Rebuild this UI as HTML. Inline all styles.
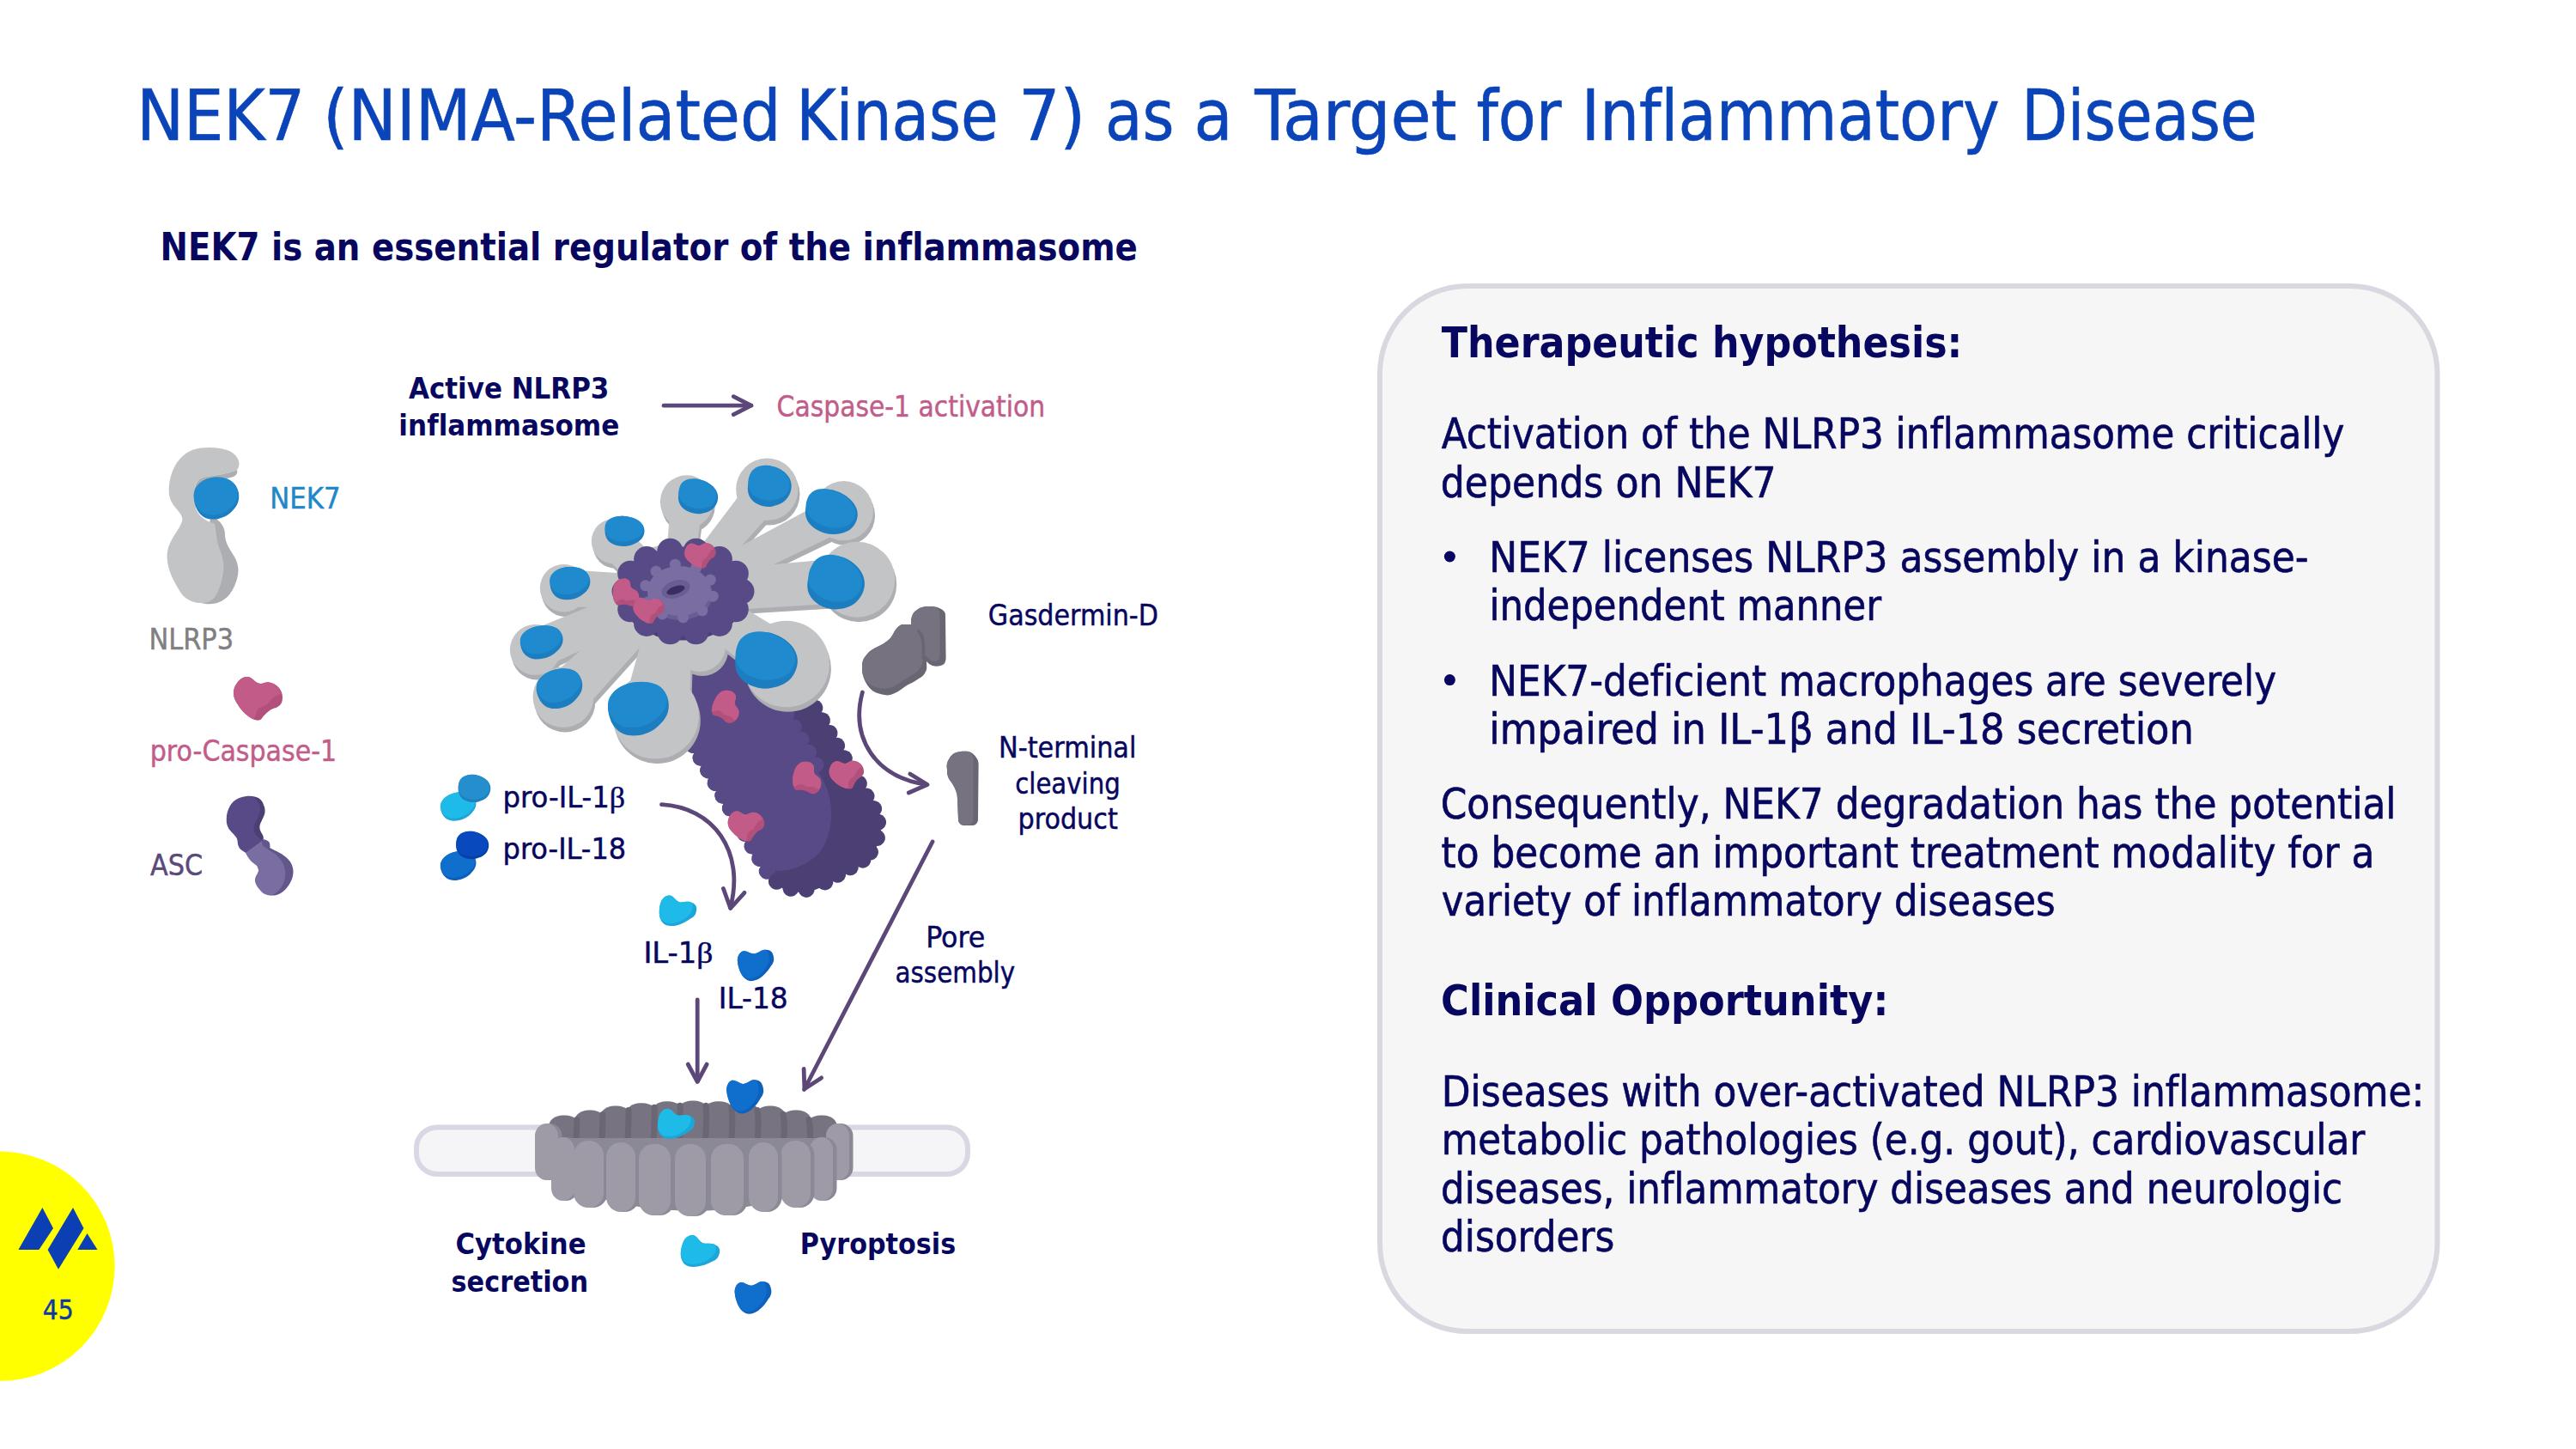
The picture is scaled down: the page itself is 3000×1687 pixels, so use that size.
<!DOCTYPE html>
<html lang="en"><head><meta charset="utf-8"><title>NEK7 (NIMA-Related Kinase 7) as a Target for Inflammatory Disease</title>
<style>
html,body{margin:0;padding:0;background:#fff;}
body{width:3000px;height:1687px;overflow:hidden;}
svg{display:block;}
text{font-family:"DejaVu Sans Condensed","DejaVu Sans","Liberation Sans",sans-serif;font-variant-ligatures:none;font-kerning:normal;white-space:pre;}
text.b{font-family:"DejaVu Sans Condensed","DejaVu Sans","Liberation Sans",sans-serif;}
</style></head><body>
<svg width="3000" height="1687" viewBox="0 0 3000 1687">
<rect width="3000" height="1687" fill="#ffffff"/>
<rect x="1607" y="333" width="1231.5" height="1217" rx="102" ry="102" fill="#F6F6F7" stroke="#DAD7E1" stroke-width="6"/><circle cx="1688.4" cy="648" r="6.5" fill="#07075F"/><circle cx="1688.4" cy="791.6" r="6.5" fill="#07075F"/><circle cx="0" cy="1474.2" r="133.6" fill="#FFFF00"/><polygon points="49.4,1406 62,1430 45.4,1455 21.4,1455" fill="#0C3FB4"/><polygon points="85,1406 97.5,1430 68,1477.7 55.6,1455" fill="#0C3FB4"/><polygon points="101.5,1436 113.5,1455 90.3,1455" fill="#0C3FB4"/><path d="M246,600 C256,606 262,613 262,622 C262,634 270,642 274,650 C278,658 278.5,666 276,674 C272,688 265,699 251,702.5 C245,703.8 240,703.5 234,702 L234,650 Z" fill="#ADAEB1"/><path d="M234,521.6 C250,520 268,522 275,531 C279.5,537 279.5,543 276,547 C268,551 252,553.5 240,555 C232,556.5 227,561 227,568 L228,592 C232,602 240,607 250,609.6 C252,620 252,630 256,640 C260,650 262,660 259,672 C255,690 250,700 238,702 C226,703 214,698 208,686 C198,670 193,655 195,642 C197,628 210,616 212.2,606 C214,596 197,590 196.8,573 C196,555 205,525 234,521.6 Z" fill="#C3C4C6"/><path d="M227,570 C227,561 232,556.5 240,555 C252,553.5 268,551 276,547 C277,550 276,553 272,555 C262,558 250,560 242,561.5 C234,563 230,566 228.5,574 Z" fill="#ADAEB1"/><g transform="translate(252.3,580.4) rotate(-8) scale(26.25,24.75)"><path d="M-1,-0.1 C-1,-0.65 -0.55,-1 -0.05,-1 C0.5,-1 0.98,-0.7 1,-0.15 C1.02,0.35 0.75,0.6 0.45,0.8 C0.15,1.0 -0.35,1.02 -0.65,0.8 C-0.9,0.6 -1,0.3 -1,-0.1 Z" fill="#1C7EC0"/></g><g transform="translate(251.5,577.9) rotate(-8) scale(25.46,22.28)"><path d="M-1,-0.1 C-1,-0.65 -0.55,-1 -0.05,-1 C0.5,-1 0.98,-0.7 1,-0.15 C1.02,0.35 0.75,0.6 0.45,0.8 C0.15,1.0 -0.35,1.02 -0.65,0.8 C-0.9,0.6 -1,0.3 -1,-0.1 Z" fill="#1F8ACE"/></g><g transform="translate(300.5,813.2) rotate(0) scale(0.570) translate(-50,-44)"><path d="M28,0 C38,0 44,12 52,13.5 C60,15 64,10 73,11 C88,13 100,26 100,41 C100,48 99,53 95.5,57 C90,64 80,64 74.5,68 C68,72 65,76 61,80 C58,84 56,88 52,88.5 C48,89 44,88 41,86.5 C35,84 29,80 24.5,75.5 C18,70 13,64 9,57 C4,50 0,42 0,33.5 C0,26 2,19 6.5,13.5 C11,6 19,0 28,0 Z" fill="#B2507B"/><path d="M28,0 C38,0 44,12 52,13.5 C60,15 64,10 73,11 C85,12.5 95,22 97,35.5 C92,37 87,38 82.7,41 C77,45 74,50 70,54.5 C64,60 57,60 52,63.6 C47,68 47,73 45.5,77 C44,81 43,84 41,86.5 C35,84 29,80 24.5,75.5 C18,70 13,64 9,57 C4,50 0,42 0,33.5 C0,26 2,19 6.5,13.5 C11,6 19,0 28,0 Z" fill="#C35B88"/></g><path d="M287,927 C298,926 305,930 306.8,936.4 C309,941 309,945 307.9,948.6 C306,954 303,958 302.4,961.8 C302,966 304,969 305.7,971.8 C306.5,973 307,975 306.8,977 L300,985 L286,992.7 L280,960 Z" fill="#4B3F74"/><path d="M304,979 C305,977.5 306,977 306.8,977.3 C309,977.5 312,978.5 313.5,980.6 C315,983 314,985.5 314.6,987.2 C320,990 327,993 332.2,997.2 C337,1001 340,1005 341,1010.4 C342,1015 341.5,1019 340,1023.6 C338,1028 336,1032 332.2,1035.8 C329,1039 325,1041.5 320,1042.4 L314.6,1042.4 L300,1010 Z" fill="#62568A"/><path d="M285.9,992.7 L304.6,978.9 L305.7,983.9 C308,986 311,988.5 314.6,990.5 C319,993 323,996 325.6,999.4 C330,1004 332,1010 332.2,1015.9 C332.5,1022 331,1028 327.8,1032.5 C324.5,1037.5 320,1041.5 314.6,1042.4 C309.5,1042.5 305,1039.5 302.4,1035.8 C299.5,1032.5 297,1029 296.9,1024.8 C296.8,1020 301,1017 301.3,1012.6 C301.5,1008.5 296,1006 292.5,1002.7 C289.5,999.5 287.5,996 285.9,992.7 Z" fill="#7A6DA2"/><path d="M287,927 C293,926.5 298,929 300.2,933.1 C303,937 303.5,942 302.4,946.4 C301,952 297,957 295.8,961.8 C295,966 296,969 298,971.8 C300,974 303,976.5 304.6,978.9 L285.9,992.7 C282,990.5 279.5,989 278.1,986.1 C276.5,983 277,979 275.9,976.2 C273,971 268,968 266,964 C264,960 263.5,957 263.8,953 C264,945 267,938 272,933 C276,929.5 281,927.5 287,927 Z" fill="#574A86"/><rect x="485" y="1312.4" width="642" height="54.6" rx="24" ry="24" fill="#F5F4F7" stroke="#DAD6E3" stroke-width="6"/><path d="M631.0,1322 C639.0,1302 707.0,1296 807.0,1296 C907.0,1296 975.0,1302 983.0,1322 L977.0,1350 L637.0,1350 Z" fill="#777380"/><rect x="639.5" y="1298.5" width="35" height="70" rx="16" ry="12" fill="#777380"/><rect x="669.5" y="1292.4" width="35" height="70" rx="16" ry="12" fill="#777380"/><rect x="699.5" y="1287.6" width="35" height="70" rx="16" ry="12" fill="#777380"/><rect x="729.5" y="1284.2" width="35" height="70" rx="16" ry="12" fill="#777380"/><rect x="759.5" y="1282.2" width="35" height="70" rx="16" ry="12" fill="#777380"/><rect x="789.5" y="1281.5" width="35" height="70" rx="16" ry="12" fill="#777380"/><rect x="819.5" y="1282.2" width="35" height="70" rx="16" ry="12" fill="#777380"/><rect x="849.5" y="1284.2" width="35" height="70" rx="16" ry="12" fill="#777380"/><rect x="879.5" y="1287.6" width="35" height="70" rx="16" ry="12" fill="#777380"/><rect x="909.5" y="1292.4" width="35" height="70" rx="16" ry="12" fill="#777380"/><rect x="939.5" y="1298.5" width="35" height="70" rx="16" ry="12" fill="#777380"/><path d="M672.0,1303.5 C671.3,1323.5 670.0,1338.5 670.2,1363.5" stroke="#6A6673" stroke-width="7" fill="none" stroke-linecap="round"/><path d="M702.0,1297.4 C701.9,1317.4 700.0,1332.4 700.6,1357.4" stroke="#6A6673" stroke-width="7" fill="none" stroke-linecap="round"/><path d="M732.0,1292.6 C732.5,1312.6 730.0,1327.6 731.0,1352.6" stroke="#6A6673" stroke-width="7" fill="none" stroke-linecap="round"/><path d="M762.0,1289.2 C763.1,1309.2 760.0,1324.2 761.4,1349.2" stroke="#6A6673" stroke-width="7" fill="none" stroke-linecap="round"/><path d="M792.0,1287.2 C793.7,1307.2 790.0,1322.2 791.8,1347.2" stroke="#6A6673" stroke-width="7" fill="none" stroke-linecap="round"/><path d="M822.0,1287.2 C824.3,1307.2 820.0,1322.2 822.2,1347.2" stroke="#6A6673" stroke-width="7" fill="none" stroke-linecap="round"/><path d="M852.0,1289.2 C854.9,1309.2 850.0,1324.2 852.6,1349.2" stroke="#6A6673" stroke-width="7" fill="none" stroke-linecap="round"/><path d="M882.0,1292.6 C885.5,1312.6 880.0,1327.6 883.0,1352.6" stroke="#6A6673" stroke-width="7" fill="none" stroke-linecap="round"/><path d="M912.0,1297.4 C916.1,1317.4 910.0,1332.4 913.4,1357.4" stroke="#6A6673" stroke-width="7" fill="none" stroke-linecap="round"/><path d="M942.0,1303.5 C946.7,1323.5 940.0,1338.5 943.8,1363.5" stroke="#6A6673" stroke-width="7" fill="none" stroke-linecap="round"/><path d="M627.0,1325 L987.0,1325 C985.0,1370 927.0,1408 807.0,1410 C687.0,1408 629.0,1370 627.0,1325 Z" fill="#8C8996"/><g transform="translate(787.5,1308.5) rotate(0) scale(0.430,0.430) translate(-50,-41)"><path d="M27,0 C38,0 44,15 54,17.5 C64,20 72,15 83,17.5 C93,20 100,26 100,34 C100,40 99,46 96.5,51 C93,56 89,60 83,62.5 C75,68 67,73 58,76 C50,79 41,82 31,81.7 C23,81.5 15,79 10,74 C3,67 0,57 0,47 C0,37 1,27 4.2,18.3 C8,8 17,0 27,0 Z" fill="#1EA6D8"/><path d="M27,0 C38,0 44,15 54,17.5 C64,20 72,15 83,17.5 C86,18.5 88,20 89,23 C91,32 88,42 82,50 C75,58 66,65 56,69 C48,72 40,75 31,75 C23,75 15,73 10,69 C3,62 0,55 0,47 C0,37 1,27 4.2,18.3 C8,8 17,0 27,0 Z" fill="#1EBAE8"/></g><rect x="625.5" y="1308.0" width="29" height="66" rx="14.5" ry="14.5" fill="#8C8996"/><rect x="623.0" y="1308.0" width="27" height="66" rx="14.5" ry="14.5" fill="#9E9BA7"/><rect x="644.5" y="1324.0" width="29" height="74" rx="14.5" ry="14.5" fill="#8C8996"/><rect x="642.0" y="1324.0" width="27" height="74" rx="14.5" ry="14.5" fill="#9E9BA7"/><rect x="964.5" y="1308.0" width="29" height="66" rx="14.5" ry="14.5" fill="#8C8996"/><rect x="962.0" y="1308.0" width="27" height="66" rx="14.5" ry="14.5" fill="#9E9BA7"/><rect x="945.5" y="1324.0" width="29" height="74" rx="14.5" ry="14.5" fill="#8C8996"/><rect x="943.0" y="1324.0" width="27" height="74" rx="14.5" ry="14.5" fill="#9E9BA7"/><rect x="670.5" y="1328.0" width="37" height="78" rx="17" ry="17" fill="#8C8996"/><rect x="668.0" y="1328.0" width="35" height="78" rx="17" ry="17" fill="#9E9BA7"/><rect x="911.5" y="1328.0" width="37" height="78" rx="17" ry="17" fill="#8C8996"/><rect x="909.0" y="1328.0" width="35" height="78" rx="17" ry="17" fill="#9E9BA7"/><rect x="708.5" y="1330.0" width="36" height="81" rx="17" ry="17" fill="#8C8996"/><rect x="706.0" y="1330.0" width="34" height="81" rx="17" ry="17" fill="#9E9BA7"/><rect x="874.5" y="1330.0" width="36" height="81" rx="17" ry="17" fill="#8C8996"/><rect x="872.0" y="1330.0" width="34" height="81" rx="17" ry="17" fill="#9E9BA7"/><rect x="746.5" y="1332.0" width="39" height="83" rx="17" ry="17" fill="#8C8996"/><rect x="744.0" y="1332.0" width="37" height="83" rx="17" ry="17" fill="#9E9BA7"/><rect x="830.5" y="1332.0" width="40" height="83" rx="17" ry="17" fill="#8C8996"/><rect x="828.0" y="1332.0" width="38" height="83" rx="17" ry="17" fill="#9E9BA7"/><rect x="788.5" y="1332.0" width="38" height="84" rx="17" ry="17" fill="#8C8996"/><rect x="786.0" y="1332.0" width="36" height="84" rx="17" ry="17" fill="#9E9BA7"/><g transform="translate(868.8,1273.5) rotate(-22) scale(0.430,0.503) translate(-50,-41)"><path d="M27,0 C38,0 44,15 54,17.5 C64,20 72,15 83,17.5 C93,20 100,26 100,34 C100,40 99,46 96.5,51 C93,56 89,60 83,62.5 C75,68 67,73 58,76 C50,79 41,82 31,81.7 C23,81.5 15,79 10,74 C3,67 0,57 0,47 C0,37 1,27 4.2,18.3 C8,8 17,0 27,0 Z" fill="#0D60BB"/><path d="M27,0 C38,0 44,15 54,17.5 C64,20 72,15 83,17.5 C86,18.5 88,20 89,23 C91,32 88,42 82,50 C75,58 66,65 56,69 C48,72 40,75 31,75 C23,75 15,73 10,69 C3,62 0,55 0,47 C0,37 1,27 4.2,18.3 C8,8 17,0 27,0 Z" fill="#106ECD"/></g><g transform="translate(800,712) rotate(59.7)"><rect x="30" y="-75.0" width="326" height="150" rx="50" ry="50" fill="#4B3F74"/><circle cx="70" cy="-72.0" r="9.5" fill="#4B3F74"/><circle cx="70" cy="72.0" r="9.5" fill="#574A86"/><circle cx="87" cy="-72.0" r="9.5" fill="#4B3F74"/><circle cx="87" cy="72.0" r="9.5" fill="#574A86"/><circle cx="104" cy="-72.0" r="9.5" fill="#4B3F74"/><circle cx="104" cy="72.0" r="9.5" fill="#574A86"/><circle cx="121" cy="-72.0" r="9.5" fill="#4B3F74"/><circle cx="121" cy="72.0" r="9.5" fill="#574A86"/><circle cx="138" cy="-72.0" r="9.5" fill="#4B3F74"/><circle cx="138" cy="72.0" r="9.5" fill="#574A86"/><circle cx="155" cy="-72.0" r="9.5" fill="#4B3F74"/><circle cx="155" cy="72.0" r="9.5" fill="#574A86"/><circle cx="172" cy="-72.0" r="9.5" fill="#4B3F74"/><circle cx="172" cy="72.0" r="9.5" fill="#574A86"/><circle cx="189" cy="-72.0" r="9.5" fill="#4B3F74"/><circle cx="189" cy="72.0" r="9.5" fill="#574A86"/><circle cx="206" cy="-72.0" r="9.5" fill="#4B3F74"/><circle cx="206" cy="72.0" r="9.5" fill="#574A86"/><circle cx="223" cy="-72.0" r="9.5" fill="#4B3F74"/><circle cx="223" cy="72.0" r="9.5" fill="#574A86"/><circle cx="240" cy="-72.0" r="9.5" fill="#4B3F74"/><circle cx="240" cy="72.0" r="9.5" fill="#574A86"/><circle cx="257" cy="-72.0" r="9.5" fill="#4B3F74"/><circle cx="257" cy="72.0" r="9.5" fill="#574A86"/><circle cx="274" cy="-72.0" r="9.5" fill="#4B3F74"/><circle cx="274" cy="72.0" r="9.5" fill="#574A86"/><circle cx="291" cy="-72.0" r="9.5" fill="#4B3F74"/><circle cx="291" cy="72.0" r="9.5" fill="#574A86"/><circle cx="308" cy="-72.0" r="9.5" fill="#4B3F74"/><circle cx="308" cy="72.0" r="9.5" fill="#574A86"/><circle cx="353" cy="-31.0" r="9.5" fill="#4B3F74"/><circle cx="353" cy="-14.0" r="9.5" fill="#4B3F74"/><circle cx="353" cy="3.0" r="9.5" fill="#4B3F74"/><circle cx="353" cy="20.0" r="9.5" fill="#4B3F74"/><circle cx="349.4" cy="-43.0" r="9.5" fill="#4B3F74"/><circle cx="349.4" cy="43.0" r="9.5" fill="#4B3F74"/><circle cx="339.2" cy="-58.2" r="9.5" fill="#4B3F74"/><circle cx="339.2" cy="58.2" r="9.5" fill="#4B3F74"/><circle cx="324.0" cy="-68.4" r="9.5" fill="#4B3F74"/><circle cx="324.0" cy="68.4" r="9.5" fill="#4B3F74"/><path d="M30,75.0 L286,75.0 C316,75.0 326,45.0 322,15.0 C318,-8 286,-38 246,-38 L30,-38 Z" fill="#574A86"/><circle cx="60" cy="-40" r="9" fill="#574A86"/><circle cx="77" cy="-40" r="9" fill="#574A86"/><circle cx="94" cy="-40" r="9" fill="#574A86"/><circle cx="111" cy="-40" r="9" fill="#574A86"/><circle cx="128" cy="-40" r="9" fill="#574A86"/><circle cx="145" cy="-40" r="9" fill="#574A86"/><circle cx="162" cy="-40" r="9" fill="#574A86"/><circle cx="179" cy="-40" r="9" fill="#574A86"/><circle cx="196" cy="-40" r="9" fill="#574A86"/><circle cx="213" cy="-40" r="9" fill="#574A86"/><circle cx="230" cy="-40" r="9" fill="#574A86"/><circle cx="70" cy="72.0" r="9.5" fill="#574A86"/><circle cx="87" cy="72.0" r="9.5" fill="#574A86"/><circle cx="104" cy="72.0" r="9.5" fill="#574A86"/><circle cx="121" cy="72.0" r="9.5" fill="#574A86"/><circle cx="138" cy="72.0" r="9.5" fill="#574A86"/><circle cx="155" cy="72.0" r="9.5" fill="#574A86"/><circle cx="172" cy="72.0" r="9.5" fill="#574A86"/><circle cx="189" cy="72.0" r="9.5" fill="#574A86"/><circle cx="206" cy="72.0" r="9.5" fill="#574A86"/><circle cx="223" cy="72.0" r="9.5" fill="#574A86"/><circle cx="240" cy="72.0" r="9.5" fill="#574A86"/><circle cx="257" cy="72.0" r="9.5" fill="#574A86"/><circle cx="274" cy="72.0" r="9.5" fill="#574A86"/></g><g transform="translate(845.0,824.0) rotate(65) scale(0.380) translate(-50,-44)"><path d="M28,0 C38,0 44,12 52,13.5 C60,15 64,10 73,11 C88,13 100,26 100,41 C100,48 99,53 95.5,57 C90,64 80,64 74.5,68 C68,72 65,76 61,80 C58,84 56,88 52,88.5 C48,89 44,88 41,86.5 C35,84 29,80 24.5,75.5 C18,70 13,64 9,57 C4,50 0,42 0,33.5 C0,26 2,19 6.5,13.5 C11,6 19,0 28,0 Z" fill="#B2507B"/><path d="M28,0 C38,0 44,12 52,13.5 C60,15 64,10 73,11 C85,12.5 95,22 97,35.5 C92,37 87,38 82.7,41 C77,45 74,50 70,54.5 C64,60 57,60 52,63.6 C47,68 47,73 45.5,77 C44,81 43,84 41,86.5 C35,84 29,80 24.5,75.5 C18,70 13,64 9,57 C4,50 0,42 0,33.5 C0,26 2,19 6.5,13.5 C11,6 19,0 28,0 Z" fill="#C35B88"/></g><g transform="translate(939.0,907.5) rotate(50) scale(0.390) translate(-50,-44)"><path d="M28,0 C38,0 44,12 52,13.5 C60,15 64,10 73,11 C88,13 100,26 100,41 C100,48 99,53 95.5,57 C90,64 80,64 74.5,68 C68,72 65,76 61,80 C58,84 56,88 52,88.5 C48,89 44,88 41,86.5 C35,84 29,80 24.5,75.5 C18,70 13,64 9,57 C4,50 0,42 0,33.5 C0,26 2,19 6.5,13.5 C11,6 19,0 28,0 Z" fill="#B2507B"/><path d="M28,0 C38,0 44,12 52,13.5 C60,15 64,10 73,11 C85,12.5 95,22 97,35.5 C92,37 87,38 82.7,41 C77,45 74,50 70,54.5 C64,60 57,60 52,63.6 C47,68 47,73 45.5,77 C44,81 43,84 41,86.5 C35,84 29,80 24.5,75.5 C18,70 13,64 9,57 C4,50 0,42 0,33.5 C0,26 2,19 6.5,13.5 C11,6 19,0 28,0 Z" fill="#C35B88"/></g><g transform="translate(986.5,901.0) rotate(-15) scale(0.400) translate(-50,-44)"><path d="M28,0 C38,0 44,12 52,13.5 C60,15 64,10 73,11 C88,13 100,26 100,41 C100,48 99,53 95.5,57 C90,64 80,64 74.5,68 C68,72 65,76 61,80 C58,84 56,88 52,88.5 C48,89 44,88 41,86.5 C35,84 29,80 24.5,75.5 C18,70 13,64 9,57 C4,50 0,42 0,33.5 C0,26 2,19 6.5,13.5 C11,6 19,0 28,0 Z" fill="#B2507B"/><path d="M28,0 C38,0 44,12 52,13.5 C60,15 64,10 73,11 C85,12.5 95,22 97,35.5 C92,37 87,38 82.7,41 C77,45 74,50 70,54.5 C64,60 57,60 52,63.6 C47,68 47,73 45.5,77 C44,81 43,84 41,86.5 C35,84 29,80 24.5,75.5 C18,70 13,64 9,57 C4,50 0,42 0,33.5 C0,26 2,19 6.5,13.5 C11,6 19,0 28,0 Z" fill="#C35B88"/></g><g transform="translate(869.4,961.0) rotate(-10) scale(0.420) translate(-50,-44)"><path d="M28,0 C38,0 44,12 52,13.5 C60,15 64,10 73,11 C88,13 100,26 100,41 C100,48 99,53 95.5,57 C90,64 80,64 74.5,68 C68,72 65,76 61,80 C58,84 56,88 52,88.5 C48,89 44,88 41,86.5 C35,84 29,80 24.5,75.5 C18,70 13,64 9,57 C4,50 0,42 0,33.5 C0,26 2,19 6.5,13.5 C11,6 19,0 28,0 Z" fill="#B2507B"/><path d="M28,0 C38,0 44,12 52,13.5 C60,15 64,10 73,11 C85,12.5 95,22 97,35.5 C92,37 87,38 82.7,41 C77,45 74,50 70,54.5 C64,60 57,60 52,63.6 C47,68 47,73 45.5,77 C44,81 43,84 41,86.5 C35,84 29,80 24.5,75.5 C18,70 13,64 9,57 C4,50 0,42 0,33.5 C0,26 2,19 6.5,13.5 C11,6 19,0 28,0 Z" fill="#C35B88"/></g><polygon points="763.3,653.3 731.6,621.2 702.8,650.3 735.1,681.7" fill="#ADAEB1"/><circle cx="749.0" cy="667.4" r="20.0" fill="#ADAEB1"/><circle cx="717.0" cy="635.6" r="20.5" fill="#ADAEB1"/><circle cx="717.0" cy="635.6" r="26.2" fill="#ADAEB1"/><polygon points="812.1,654.0 820.1,592.1 783.2,588.3 778.3,650.5" fill="#ADAEB1"/><circle cx="795.2" cy="651.8" r="17.0" fill="#ADAEB1"/><circle cx="801.7" cy="589.7" r="18.6" fill="#ADAEB1"/><circle cx="801.7" cy="589.7" r="30.9" fill="#ADAEB1"/><polygon points="836.1,673.9 911.5,589.8 878.0,562.2 809.9,652.3" fill="#ADAEB1"/><circle cx="823.5" cy="662.5" r="17.0" fill="#ADAEB1"/><circle cx="895.3" cy="575.3" r="21.7" fill="#ADAEB1"/><circle cx="895.3" cy="575.3" r="36.2" fill="#ADAEB1"/><polygon points="843.1,691.5 993.5,618.9 974.6,582.0 827.7,661.3" fill="#ADAEB1"/><circle cx="835.7" cy="676.2" r="17.0" fill="#ADAEB1"/><circle cx="984.5" cy="600.2" r="20.8" fill="#ADAEB1"/><circle cx="984.5" cy="600.2" r="34.6" fill="#ADAEB1"/><polygon points="842.3,716.3 1001.8,706.6 997.8,653.9 838.7,668.4" fill="#ADAEB1"/><circle cx="840.9" cy="692.3" r="24.0" fill="#ADAEB1"/><circle cx="1000.2" cy="680.2" r="26.4" fill="#ADAEB1"/><circle cx="1000.2" cy="680.2" r="44.0" fill="#ADAEB1"/><polygon points="817.8,738.2 898.9,802.2 933.4,752.7 845.2,698.9" fill="#ADAEB1"/><circle cx="832.7" cy="719.4" r="24.0" fill="#ADAEB1"/><circle cx="917.6" cy="778.5" r="30.2" fill="#ADAEB1"/><circle cx="917.6" cy="778.5" r="50.3" fill="#ADAEB1"/><polygon points="754.6,731.7 727.7,828.3 804.8,839.9 807.6,739.7" fill="#ADAEB1"/><circle cx="780.6" cy="738.9" r="27.0" fill="#ADAEB1"/><circle cx="765.5" cy="838.8" r="39.3" fill="#ADAEB1"/><circle cx="765.5" cy="838.8" r="50.3" fill="#ADAEB1"/><polygon points="737.7,710.4 639.8,796.3 678.5,835.5 765.7,738.8" fill="#ADAEB1"/><circle cx="750.9" cy="725.4" r="20.0" fill="#ADAEB1"/><circle cx="658.0" cy="817.1" r="27.6" fill="#ADAEB1"/><circle cx="658.0" cy="817.1" r="35.4" fill="#ADAEB1"/><polygon points="733.3,693.5 616.7,740.8 634.8,782.8 749.2,730.2" fill="#ADAEB1"/><circle cx="740.8" cy="712.1" r="20.0" fill="#ADAEB1"/><circle cx="625.3" cy="762.0" r="22.9" fill="#ADAEB1"/><circle cx="625.3" cy="762.0" r="29.4" fill="#ADAEB1"/><polygon points="738.4,673.7 660.0,668.5 658.0,711.8 736.6,713.7" fill="#ADAEB1"/><circle cx="737.0" cy="693.7" r="20.0" fill="#ADAEB1"/><circle cx="658.6" cy="690.2" r="21.7" fill="#ADAEB1"/><circle cx="658.6" cy="690.2" r="27.8" fill="#ADAEB1"/><ellipse cx="791.0" cy="700.0" rx="80" ry="64" fill="#ADAEB1"/><circle cx="818" cy="757" r="30" fill="#ADAEB1"/><polygon points="761.3,647.8 729.6,615.7 700.8,644.8 733.1,676.2" fill="#C3C4C6"/><circle cx="747.0" cy="661.9" r="20.0" fill="#C3C4C6"/><circle cx="715.0" cy="630.1" r="20.5" fill="#C3C4C6"/><circle cx="715.0" cy="630.1" r="26.2" fill="#C3C4C6"/><polygon points="810.1,648.5 818.1,586.6 781.2,582.8 776.3,645.0" fill="#C3C4C6"/><circle cx="793.2" cy="646.3" r="17.0" fill="#C3C4C6"/><circle cx="799.7" cy="584.2" r="18.6" fill="#C3C4C6"/><circle cx="799.7" cy="584.2" r="30.9" fill="#C3C4C6"/><polygon points="834.1,668.4 909.5,584.3 876.0,556.7 807.9,646.8" fill="#C3C4C6"/><circle cx="821.5" cy="657.0" r="17.0" fill="#C3C4C6"/><circle cx="893.3" cy="569.8" r="21.7" fill="#C3C4C6"/><circle cx="893.3" cy="569.8" r="36.2" fill="#C3C4C6"/><polygon points="841.1,686.0 991.5,613.4 972.6,576.5 825.7,655.8" fill="#C3C4C6"/><circle cx="833.7" cy="670.7" r="17.0" fill="#C3C4C6"/><circle cx="982.5" cy="594.7" r="20.8" fill="#C3C4C6"/><circle cx="982.5" cy="594.7" r="34.6" fill="#C3C4C6"/><polygon points="840.3,710.8 999.8,701.1 995.8,648.4 836.7,662.9" fill="#C3C4C6"/><circle cx="838.9" cy="686.8" r="24.0" fill="#C3C4C6"/><circle cx="998.2" cy="674.7" r="26.4" fill="#C3C4C6"/><circle cx="998.2" cy="674.7" r="44.0" fill="#C3C4C6"/><polygon points="815.8,732.7 896.9,796.7 931.4,747.2 843.2,693.4" fill="#C3C4C6"/><circle cx="830.7" cy="713.9" r="24.0" fill="#C3C4C6"/><circle cx="915.6" cy="773.0" r="30.2" fill="#C3C4C6"/><circle cx="915.6" cy="773.0" r="50.3" fill="#C3C4C6"/><polygon points="752.6,726.2 725.7,822.8 802.8,834.4 805.6,734.2" fill="#C3C4C6"/><circle cx="778.6" cy="733.4" r="27.0" fill="#C3C4C6"/><circle cx="763.5" cy="833.3" r="39.3" fill="#C3C4C6"/><circle cx="763.5" cy="833.3" r="50.3" fill="#C3C4C6"/><polygon points="735.7,704.9 637.8,790.8 676.5,830.0 763.7,733.3" fill="#C3C4C6"/><circle cx="748.9" cy="719.9" r="20.0" fill="#C3C4C6"/><circle cx="656.0" cy="811.6" r="27.6" fill="#C3C4C6"/><circle cx="656.0" cy="811.6" r="35.4" fill="#C3C4C6"/><polygon points="731.3,688.0 614.7,735.3 632.8,777.3 747.2,724.7" fill="#C3C4C6"/><circle cx="738.8" cy="706.6" r="20.0" fill="#C3C4C6"/><circle cx="623.3" cy="756.5" r="22.9" fill="#C3C4C6"/><circle cx="623.3" cy="756.5" r="29.4" fill="#C3C4C6"/><polygon points="736.4,668.2 658.0,663.0 656.0,706.3 734.6,708.2" fill="#C3C4C6"/><circle cx="735.0" cy="688.2" r="20.0" fill="#C3C4C6"/><circle cx="656.6" cy="684.7" r="21.7" fill="#C3C4C6"/><circle cx="656.6" cy="684.7" r="27.8" fill="#C3C4C6"/><ellipse cx="789.0" cy="695.0" rx="80" ry="62" fill="#C3C4C6"/><circle cx="815" cy="752" r="30" fill="#C3C4C6"/><ellipse cx="795.5" cy="691.5" rx="74" ry="54" fill="#4B3F74"/><circle cx="863.5" cy="688.5" r="15" fill="#574A86"/><circle cx="856.8" cy="709.3" r="15" fill="#574A86"/><circle cx="837.9" cy="726.0" r="15" fill="#574A86"/><circle cx="810.6" cy="735.3" r="15" fill="#574A86"/><circle cx="780.4" cy="735.3" r="15" fill="#574A86"/><circle cx="753.1" cy="726.0" r="15" fill="#574A86"/><circle cx="734.2" cy="709.3" r="15" fill="#574A86"/><circle cx="727.5" cy="688.5" r="15" fill="#574A86"/><circle cx="734.2" cy="667.7" r="15" fill="#574A86"/><circle cx="753.1" cy="651.0" r="15" fill="#574A86"/><circle cx="780.4" cy="641.7" r="15" fill="#574A86"/><circle cx="810.6" cy="641.7" r="15" fill="#574A86"/><circle cx="837.9" cy="651.0" r="15" fill="#574A86"/><circle cx="856.8" cy="667.7" r="15" fill="#574A86"/><ellipse cx="795.5" cy="688.5" rx="72" ry="52" fill="#574A86"/><ellipse cx="792" cy="692" rx="38" ry="30" fill="#6A5D94"/><circle cx="830.2" cy="694.2" r="6.5" fill="#7A6DA2"/><circle cx="818.0" cy="710.8" r="6.5" fill="#7A6DA2"/><circle cx="795.6" cy="718.8" r="6.5" fill="#7A6DA2"/><circle cx="771.3" cy="715.0" r="6.5" fill="#7A6DA2"/><circle cx="754.6" cy="700.9" r="6.5" fill="#7A6DA2"/><circle cx="751.8" cy="681.8" r="6.5" fill="#7A6DA2"/><circle cx="764.0" cy="665.2" r="6.5" fill="#7A6DA2"/><circle cx="786.4" cy="657.2" r="6.5" fill="#7A6DA2"/><circle cx="810.7" cy="661.0" r="6.5" fill="#7A6DA2"/><circle cx="827.4" cy="675.1" r="6.5" fill="#7A6DA2"/><ellipse cx="791" cy="688" rx="37" ry="29" fill="#7A6DA2"/><ellipse cx="787" cy="686" rx="17" ry="10" fill="#6A5D94" transform="rotate(-18 787 686)"/><ellipse cx="787" cy="687" rx="11" ry="4.5" fill="#3A2E60" transform="rotate(-18 787 687)"/><g transform="translate(816.0,646.0) rotate(-15) scale(0.360) translate(-50,-44)"><path d="M28,0 C38,0 44,12 52,13.5 C60,15 64,10 73,11 C88,13 100,26 100,41 C100,48 99,53 95.5,57 C90,64 80,64 74.5,68 C68,72 65,76 61,80 C58,84 56,88 52,88.5 C48,89 44,88 41,86.5 C35,84 29,80 24.5,75.5 C18,70 13,64 9,57 C4,50 0,42 0,33.5 C0,26 2,19 6.5,13.5 C11,6 19,0 28,0 Z" fill="#B2507B"/><path d="M28,0 C38,0 44,12 52,13.5 C60,15 64,10 73,11 C85,12.5 95,22 97,35.5 C92,37 87,38 82.7,41 C77,45 74,50 70,54.5 C64,60 57,60 52,63.6 C47,68 47,73 45.5,77 C44,81 43,84 41,86.5 C35,84 29,80 24.5,75.5 C18,70 13,64 9,57 C4,50 0,42 0,33.5 C0,26 2,19 6.5,13.5 C11,6 19,0 28,0 Z" fill="#C35B88"/></g><g transform="translate(728.0,692.0) rotate(40) scale(0.350) translate(-50,-44)"><path d="M28,0 C38,0 44,12 52,13.5 C60,15 64,10 73,11 C88,13 100,26 100,41 C100,48 99,53 95.5,57 C90,64 80,64 74.5,68 C68,72 65,76 61,80 C58,84 56,88 52,88.5 C48,89 44,88 41,86.5 C35,84 29,80 24.5,75.5 C18,70 13,64 9,57 C4,50 0,42 0,33.5 C0,26 2,19 6.5,13.5 C11,6 19,0 28,0 Z" fill="#B2507B"/><path d="M28,0 C38,0 44,12 52,13.5 C60,15 64,10 73,11 C85,12.5 95,22 97,35.5 C92,37 87,38 82.7,41 C77,45 74,50 70,54.5 C64,60 57,60 52,63.6 C47,68 47,73 45.5,77 C44,81 43,84 41,86.5 C35,84 29,80 24.5,75.5 C18,70 13,64 9,57 C4,50 0,42 0,33.5 C0,26 2,19 6.5,13.5 C11,6 19,0 28,0 Z" fill="#C35B88"/></g><g transform="translate(756.0,710.0) rotate(-10) scale(0.360) translate(-50,-44)"><path d="M28,0 C38,0 44,12 52,13.5 C60,15 64,10 73,11 C88,13 100,26 100,41 C100,48 99,53 95.5,57 C90,64 80,64 74.5,68 C68,72 65,76 61,80 C58,84 56,88 52,88.5 C48,89 44,88 41,86.5 C35,84 29,80 24.5,75.5 C18,70 13,64 9,57 C4,50 0,42 0,33.5 C0,26 2,19 6.5,13.5 C11,6 19,0 28,0 Z" fill="#B2507B"/><path d="M28,0 C38,0 44,12 52,13.5 C60,15 64,10 73,11 C85,12.5 95,22 97,35.5 C92,37 87,38 82.7,41 C77,45 74,50 70,54.5 C64,60 57,60 52,63.6 C47,68 47,73 45.5,77 C44,81 43,84 41,86.5 C35,84 29,80 24.5,75.5 C18,70 13,64 9,57 C4,50 0,42 0,33.5 C0,26 2,19 6.5,13.5 C11,6 19,0 28,0 Z" fill="#C35B88"/></g><g transform="translate(727.4,619.0) rotate(5) scale(23.00,18.00)"><path d="M-1,-0.1 C-1,-0.65 -0.55,-1 -0.05,-1 C0.5,-1 0.98,-0.7 1,-0.15 C1.02,0.35 0.75,0.6 0.45,0.8 C0.15,1.0 -0.35,1.02 -0.65,0.8 C-0.9,0.6 -1,0.3 -1,-0.1 Z" fill="#1C7EC0"/></g><g transform="translate(726.7,616.1) rotate(5) scale(22.31,15.12)"><path d="M-1,-0.1 C-1,-0.65 -0.55,-1 -0.05,-1 C0.5,-1 0.98,-0.7 1,-0.15 C1.02,0.35 0.75,0.6 0.45,0.8 C0.15,1.0 -0.35,1.02 -0.65,0.8 C-0.9,0.6 -1,0.3 -1,-0.1 Z" fill="#1F8ACE"/></g><g transform="translate(812.8,579.0) rotate(20) scale(23.00,20.50)"><path d="M-1,-0.1 C-1,-0.65 -0.55,-1 -0.05,-1 C0.5,-1 0.98,-0.7 1,-0.15 C1.02,0.35 0.75,0.6 0.45,0.8 C0.15,1.0 -0.35,1.02 -0.65,0.8 C-0.9,0.6 -1,0.3 -1,-0.1 Z" fill="#1C7EC0"/></g><g transform="translate(812.1,575.7) rotate(20) scale(22.31,17.22)"><path d="M-1,-0.1 C-1,-0.65 -0.55,-1 -0.05,-1 C0.5,-1 0.98,-0.7 1,-0.15 C1.02,0.35 0.75,0.6 0.45,0.8 C0.15,1.0 -0.35,1.02 -0.65,0.8 C-0.9,0.6 -1,0.3 -1,-0.1 Z" fill="#1F8ACE"/></g><g transform="translate(896.0,567.2) rotate(20) scale(25.00,24.50)"><path d="M-1,-0.1 C-1,-0.65 -0.55,-1 -0.05,-1 C0.5,-1 0.98,-0.7 1,-0.15 C1.02,0.35 0.75,0.6 0.45,0.8 C0.15,1.0 -0.35,1.02 -0.65,0.8 C-0.9,0.6 -1,0.3 -1,-0.1 Z" fill="#1C7EC0"/></g><g transform="translate(895.2,563.3) rotate(20) scale(24.25,20.58)"><path d="M-1,-0.1 C-1,-0.65 -0.55,-1 -0.05,-1 C0.5,-1 0.98,-0.7 1,-0.15 C1.02,0.35 0.75,0.6 0.45,0.8 C0.15,1.0 -0.35,1.02 -0.65,0.8 C-0.9,0.6 -1,0.3 -1,-0.1 Z" fill="#1F8ACE"/></g><g transform="translate(968.0,597.3) rotate(25) scale(30.50,26.00)"><path d="M-1,-0.1 C-1,-0.65 -0.55,-1 -0.05,-1 C0.5,-1 0.98,-0.7 1,-0.15 C1.02,0.35 0.75,0.6 0.45,0.8 C0.15,1.0 -0.35,1.02 -0.65,0.8 C-0.9,0.6 -1,0.3 -1,-0.1 Z" fill="#1C7EC0"/></g><g transform="translate(967.1,593.1) rotate(25) scale(29.59,21.84)"><path d="M-1,-0.1 C-1,-0.65 -0.55,-1 -0.05,-1 C0.5,-1 0.98,-0.7 1,-0.15 C1.02,0.35 0.75,0.6 0.45,0.8 C0.15,1.0 -0.35,1.02 -0.65,0.8 C-0.9,0.6 -1,0.3 -1,-0.1 Z" fill="#1F8ACE"/></g><g transform="translate(973.3,680.0) rotate(30) scale(32.50,32.00)"><path d="M-1,-0.1 C-1,-0.65 -0.55,-1 -0.05,-1 C0.5,-1 0.98,-0.7 1,-0.15 C1.02,0.35 0.75,0.6 0.45,0.8 C0.15,1.0 -0.35,1.02 -0.65,0.8 C-0.9,0.6 -1,0.3 -1,-0.1 Z" fill="#1C7EC0"/></g><g transform="translate(972.3,674.9) rotate(30) scale(31.52,26.88)"><path d="M-1,-0.1 C-1,-0.65 -0.55,-1 -0.05,-1 C0.5,-1 0.98,-0.7 1,-0.15 C1.02,0.35 0.75,0.6 0.45,0.8 C0.15,1.0 -0.35,1.02 -0.65,0.8 C-0.9,0.6 -1,0.3 -1,-0.1 Z" fill="#1F8ACE"/></g><g transform="translate(892.0,770.4) rotate(20) scale(36.00,33.50)"><path d="M-1,-0.1 C-1,-0.65 -0.55,-1 -0.05,-1 C0.5,-1 0.98,-0.7 1,-0.15 C1.02,0.35 0.75,0.6 0.45,0.8 C0.15,1.0 -0.35,1.02 -0.65,0.8 C-0.9,0.6 -1,0.3 -1,-0.1 Z" fill="#1C7EC0"/></g><g transform="translate(890.9,765.0) rotate(20) scale(34.92,28.14)"><path d="M-1,-0.1 C-1,-0.65 -0.55,-1 -0.05,-1 C0.5,-1 0.98,-0.7 1,-0.15 C1.02,0.35 0.75,0.6 0.45,0.8 C0.15,1.0 -0.35,1.02 -0.65,0.8 C-0.9,0.6 -1,0.3 -1,-0.1 Z" fill="#1F8ACE"/></g><g transform="translate(743.9,825.5) rotate(-10) scale(35.50,31.50)"><path d="M-1,-0.1 C-1,-0.65 -0.55,-1 -0.05,-1 C0.5,-1 0.98,-0.7 1,-0.15 C1.02,0.35 0.75,0.6 0.45,0.8 C0.15,1.0 -0.35,1.02 -0.65,0.8 C-0.9,0.6 -1,0.3 -1,-0.1 Z" fill="#1C7EC0"/></g><g transform="translate(742.8,820.5) rotate(-10) scale(34.44,26.46)"><path d="M-1,-0.1 C-1,-0.65 -0.55,-1 -0.05,-1 C0.5,-1 0.98,-0.7 1,-0.15 C1.02,0.35 0.75,0.6 0.45,0.8 C0.15,1.0 -0.35,1.02 -0.65,0.8 C-0.9,0.6 -1,0.3 -1,-0.1 Z" fill="#1F8ACE"/></g><g transform="translate(652.0,801.9) rotate(-15) scale(27.00,23.00)"><path d="M-1,-0.1 C-1,-0.65 -0.55,-1 -0.05,-1 C0.5,-1 0.98,-0.7 1,-0.15 C1.02,0.35 0.75,0.6 0.45,0.8 C0.15,1.0 -0.35,1.02 -0.65,0.8 C-0.9,0.6 -1,0.3 -1,-0.1 Z" fill="#1C7EC0"/></g><g transform="translate(651.2,798.2) rotate(-15) scale(26.19,19.32)"><path d="M-1,-0.1 C-1,-0.65 -0.55,-1 -0.05,-1 C0.5,-1 0.98,-0.7 1,-0.15 C1.02,0.35 0.75,0.6 0.45,0.8 C0.15,1.0 -0.35,1.02 -0.65,0.8 C-0.9,0.6 -1,0.3 -1,-0.1 Z" fill="#1F8ACE"/></g><g transform="translate(631.0,748.0) rotate(-10) scale(25.00,19.50)"><path d="M-1,-0.1 C-1,-0.65 -0.55,-1 -0.05,-1 C0.5,-1 0.98,-0.7 1,-0.15 C1.02,0.35 0.75,0.6 0.45,0.8 C0.15,1.0 -0.35,1.02 -0.65,0.8 C-0.9,0.6 -1,0.3 -1,-0.1 Z" fill="#1C7EC0"/></g><g transform="translate(630.2,744.9) rotate(-10) scale(24.25,16.38)"><path d="M-1,-0.1 C-1,-0.65 -0.55,-1 -0.05,-1 C0.5,-1 0.98,-0.7 1,-0.15 C1.02,0.35 0.75,0.6 0.45,0.8 C0.15,1.0 -0.35,1.02 -0.65,0.8 C-0.9,0.6 -1,0.3 -1,-0.1 Z" fill="#1F8ACE"/></g><g transform="translate(664.0,679.4) rotate(-5) scale(23.50,19.50)"><path d="M-1,-0.1 C-1,-0.65 -0.55,-1 -0.05,-1 C0.5,-1 0.98,-0.7 1,-0.15 C1.02,0.35 0.75,0.6 0.45,0.8 C0.15,1.0 -0.35,1.02 -0.65,0.8 C-0.9,0.6 -1,0.3 -1,-0.1 Z" fill="#1C7EC0"/></g><g transform="translate(663.3,676.3) rotate(-5) scale(22.79,16.38)"><path d="M-1,-0.1 C-1,-0.65 -0.55,-1 -0.05,-1 C0.5,-1 0.98,-0.7 1,-0.15 C1.02,0.35 0.75,0.6 0.45,0.8 C0.15,1.0 -0.35,1.02 -0.65,0.8 C-0.9,0.6 -1,0.3 -1,-0.1 Z" fill="#1F8ACE"/></g><path d="M1004,778 C1004,771 1005,767 1008,764 C1011,759 1015,756 1020,754 C1026,751 1032,748 1036,744 C1040,740 1041,735 1044,732 C1046,729 1049,727 1052,727 L1061,727 C1061,723 1061,720 1062,718 C1063,714 1065,712 1068,710 C1072,707 1076,706 1080,706 C1085,706 1090,706 1094,708 C1098,710 1101,712 1101,716 L1101.6,766 C1101.6,770 1100,773 1098,774 C1094,776 1090,776 1086,775 C1083,774 1081,772 1079,770 C1079,775 1080,779 1078,782 C1076,786 1074,788 1070,790 C1066,793 1060,796 1056,798 C1051,801 1047,805 1042,807 C1038,809 1034,810 1030,809 C1025,808 1020,807 1016,804 C1012,801 1009,796 1007,792 C1005,788 1004,783 1004,778 Z" fill="#696573"/><path d="M1004,778 C1004,771 1005,767 1008,764 C1011,759 1015,756 1020,754 C1026,751 1032,748 1036,744 C1040,740 1041,735 1044,732 C1046,729 1049,727 1052,727 L1061,727 C1061,723 1061,720 1062,718 C1063,714 1065,712 1068,710 C1072,707 1076,706 1080,706 C1085,706 1088,706 1091,708 C1094,710 1094.5,712 1094.5,716 L1094.5,764 C1094,768 1092,770 1088,770 C1084,770 1080,766 1077,762 C1075,768 1075,772 1072,777 C1070,781 1066,784 1062,786 C1058,789 1053,791 1049,794 C1045,797 1041,800 1036,801 C1032,802 1028,802 1024,801 C1019,800 1014,798 1011,795 C1008,792 1006,789 1005,785 C1004,783 1004,780 1004,778 Z" fill="#767280"/><path d="M1070,735 C1076,742 1076,752 1075,766" fill="none" stroke="#696573" stroke-width="3.5" stroke-linecap="round"/><path d="M1103,896 C1102,891 1103,887 1105,884 C1107,880 1110,877 1114,876 C1118,874.5 1124,874.5 1128,875 C1132,876 1135,879 1137,882 C1139,885 1139.6,887 1139.6,890 L1139,954 C1139,958 1136,961 1133,961 L1122,961 C1119,961 1116,958 1116,954 L1115,930 C1115,924 1113,919 1110,914 C1108,910 1105,908 1104,904 C1103,901 1103,899 1103,896 Z" fill="#696573"/><path d="M1103,896 C1102,891 1103,887 1105,884 C1107,880 1110,877 1114,876 C1118,874.5 1124,874.5 1128,875 C1131,876 1133,879 1133.5,882 L1133.5,954 C1133,958 1131,960 1129,960 L1122,960 C1119,960 1116,958 1116,954 L1115,930 C1115,924 1113,919 1110,914 C1108,910 1105,908 1104,904 C1103,901 1103,899 1103,896 Z" fill="#767280"/><path d="M773,472.2 L875,472.2" stroke="#5C4878" stroke-width="4.8" stroke-linecap="round" fill="none"/><path d="M854.3,482.7 L874.8,472.2 L854.3,461.7" fill="none" stroke="#5C4878" stroke-width="4.8" stroke-linecap="round" stroke-linejoin="round"/><path d="M1004.4,806 C990,860 1020,905 1079,913.4" stroke="#5C4878" stroke-width="4.8" stroke-linecap="round" fill="none"/><path d="M1058.3,923.0 L1080.0,913.5 L1059.8,901.0" fill="none" stroke="#5C4878" stroke-width="4.8" stroke-linecap="round" stroke-linejoin="round"/><path d="M770.5,936.7 C830,940 868,990 850.6,1057" stroke="#5C4878" stroke-width="4.8" stroke-linecap="round" fill="none"/><path d="M842.4,1034.5 L850.7,1057.5 L867.0,1039.3" fill="none" stroke="#5C4878" stroke-width="4.8" stroke-linecap="round" stroke-linejoin="round"/><path d="M812.2,1164 L812.2,1259" stroke="#5C4878" stroke-width="4.8" stroke-linecap="round" fill="none"/><path d="M801.2,1239.0 L812.2,1259.5 L823.2,1239.0" fill="none" stroke="#5C4878" stroke-width="4.8" stroke-linecap="round" stroke-linejoin="round"/><path d="M1086,980 L936.6,1268.5" stroke="#5C4878" stroke-width="4.8" stroke-linecap="round" fill="none"/><path d="M936.1,1244.3 L936.9,1267.8 L956.6,1254.9" fill="none" stroke="#5C4878" stroke-width="4.8" stroke-linecap="round" stroke-linejoin="round"/><g transform="translate(534.0,939.0) rotate(-14) scale(21.00,16.50)"><path d="M-1,-0.1 C-1,-0.65 -0.55,-1 -0.05,-1 C0.5,-1 0.98,-0.7 1,-0.15 C1.02,0.35 0.75,0.6 0.45,0.8 C0.15,1.0 -0.35,1.02 -0.65,0.8 C-0.9,0.6 -1,0.3 -1,-0.1 Z" fill="#1EA6D8"/></g><g transform="translate(533.4,937.4) rotate(-14) scale(20.37,14.85)"><path d="M-1,-0.1 C-1,-0.65 -0.55,-1 -0.05,-1 C0.5,-1 0.98,-0.7 1,-0.15 C1.02,0.35 0.75,0.6 0.45,0.8 C0.15,1.0 -0.35,1.02 -0.65,0.8 C-0.9,0.6 -1,0.3 -1,-0.1 Z" fill="#1EBAE8"/></g><g transform="translate(552.3,918.5) rotate(12) scale(18.75,16.50)"><path d="M-1,-0.1 C-1,-0.65 -0.55,-1 -0.05,-1 C0.5,-1 0.98,-0.7 1,-0.15 C1.02,0.35 0.75,0.6 0.45,0.8 C0.15,1.0 -0.35,1.02 -0.65,0.8 C-0.9,0.6 -1,0.3 -1,-0.1 Z" fill="#207FBE"/></g><g transform="translate(551.7,916.9) rotate(12) scale(18.19,14.85)"><path d="M-1,-0.1 C-1,-0.65 -0.55,-1 -0.05,-1 C0.5,-1 0.98,-0.7 1,-0.15 C1.02,0.35 0.75,0.6 0.45,0.8 C0.15,1.0 -0.35,1.02 -0.65,0.8 C-0.9,0.6 -1,0.3 -1,-0.1 Z" fill="#258ECD"/></g><g transform="translate(534.0,1008.0) rotate(-14) scale(21.00,16.75)"><path d="M-1,-0.1 C-1,-0.65 -0.55,-1 -0.05,-1 C0.5,-1 0.98,-0.7 1,-0.15 C1.02,0.35 0.75,0.6 0.45,0.8 C0.15,1.0 -0.35,1.02 -0.65,0.8 C-0.9,0.6 -1,0.3 -1,-0.1 Z" fill="#0D60BB"/></g><g transform="translate(533.4,1006.3) rotate(-14) scale(20.37,15.08)"><path d="M-1,-0.1 C-1,-0.65 -0.55,-1 -0.05,-1 C0.5,-1 0.98,-0.7 1,-0.15 C1.02,0.35 0.75,0.6 0.45,0.8 C0.15,1.0 -0.35,1.02 -0.65,0.8 C-0.9,0.6 -1,0.3 -1,-0.1 Z" fill="#106ECD"/></g><g transform="translate(550.0,984.6) rotate(12) scale(19.00,16.50)"><path d="M-1,-0.1 C-1,-0.65 -0.55,-1 -0.05,-1 C0.5,-1 0.98,-0.7 1,-0.15 C1.02,0.35 0.75,0.6 0.45,0.8 C0.15,1.0 -0.35,1.02 -0.65,0.8 C-0.9,0.6 -1,0.3 -1,-0.1 Z" fill="#0740A8"/></g><g transform="translate(549.4,983.0) rotate(12) scale(18.43,14.85)"><path d="M-1,-0.1 C-1,-0.65 -0.55,-1 -0.05,-1 C0.5,-1 0.98,-0.7 1,-0.15 C1.02,0.35 0.75,0.6 0.45,0.8 C0.15,1.0 -0.35,1.02 -0.65,0.8 C-0.9,0.6 -1,0.3 -1,-0.1 Z" fill="#084ABE"/></g><g transform="translate(789.5,1060.4) rotate(0) scale(0.435,0.435) translate(-50,-41)"><path d="M27,0 C38,0 44,15 54,17.5 C64,20 72,15 83,17.5 C93,20 100,26 100,34 C100,40 99,46 96.5,51 C93,56 89,60 83,62.5 C75,68 67,73 58,76 C50,79 41,82 31,81.7 C23,81.5 15,79 10,74 C3,67 0,57 0,47 C0,37 1,27 4.2,18.3 C8,8 17,0 27,0 Z" fill="#1EA6D8"/><path d="M27,0 C38,0 44,15 54,17.5 C64,20 72,15 83,17.5 C86,18.5 88,20 89,23 C91,32 88,42 82,50 C75,58 66,65 56,69 C48,72 40,75 31,75 C23,75 15,73 10,69 C3,62 0,55 0,47 C0,37 1,27 4.2,18.3 C8,8 17,0 27,0 Z" fill="#1EBAE8"/></g><g transform="translate(881.0,1121.0) rotate(-22) scale(0.430,0.452) translate(-50,-41)"><path d="M27,0 C38,0 44,15 54,17.5 C64,20 72,15 83,17.5 C93,20 100,26 100,34 C100,40 99,46 96.5,51 C93,56 89,60 83,62.5 C75,68 67,73 58,76 C50,79 41,82 31,81.7 C23,81.5 15,79 10,74 C3,67 0,57 0,47 C0,37 1,27 4.2,18.3 C8,8 17,0 27,0 Z" fill="#0D60BB"/><path d="M27,0 C38,0 44,15 54,17.5 C64,20 72,15 83,17.5 C86,18.5 88,20 89,23 C91,32 88,42 82,50 C75,58 66,65 56,69 C48,72 40,75 31,75 C23,75 15,73 10,69 C3,62 0,55 0,47 C0,37 1,27 4.2,18.3 C8,8 17,0 27,0 Z" fill="#106ECD"/></g><g transform="translate(815.5,1457.5) rotate(6) scale(0.450,0.450) translate(-50,-41)"><path d="M27,0 C38,0 44,15 54,17.5 C64,20 72,15 83,17.5 C93,20 100,26 100,34 C100,40 99,46 96.5,51 C93,56 89,60 83,62.5 C75,68 67,73 58,76 C50,79 41,82 31,81.7 C23,81.5 15,79 10,74 C3,67 0,57 0,47 C0,37 1,27 4.2,18.3 C8,8 17,0 27,0 Z" fill="#1EA6D8"/><path d="M27,0 C38,0 44,15 54,17.5 C64,20 72,15 83,17.5 C86,18.5 88,20 89,23 C91,32 88,42 82,50 C75,58 66,65 56,69 C48,72 40,75 31,75 C23,75 15,73 10,69 C3,62 0,55 0,47 C0,37 1,27 4.2,18.3 C8,8 17,0 27,0 Z" fill="#1EBAE8"/></g><g transform="translate(878.0,1507.7) rotate(-22) scale(0.430,0.477) translate(-50,-41)"><path d="M27,0 C38,0 44,15 54,17.5 C64,20 72,15 83,17.5 C93,20 100,26 100,34 C100,40 99,46 96.5,51 C93,56 89,60 83,62.5 C75,68 67,73 58,76 C50,79 41,82 31,81.7 C23,81.5 15,79 10,74 C3,67 0,57 0,47 C0,37 1,27 4.2,18.3 C8,8 17,0 27,0 Z" fill="#0D60BB"/><path d="M27,0 C38,0 44,15 54,17.5 C64,20 72,15 83,17.5 C86,18.5 88,20 89,23 C91,32 88,42 82,50 C75,58 66,65 56,69 C48,72 40,75 31,75 C23,75 15,73 10,69 C3,62 0,55 0,47 C0,37 1,27 4.2,18.3 C8,8 17,0 27,0 Z" fill="#106ECD"/></g>
<text id="t_title" y="162.70" font-size="81.25" font-weight="normal" stroke="#0A44B8" stroke-width="0.6" fill="#0A44B8"><tspan id="t_title_0" x="159.27" textLength="195.96" lengthAdjust="spacingAndGlyphs">NEK7</tspan> <tspan id="t_title_1" x="376.32" textLength="533.39" lengthAdjust="spacingAndGlyphs">(NIMA-Related</tspan> <tspan id="t_title_2" x="927.34" textLength="235.33" lengthAdjust="spacingAndGlyphs">Kinase</tspan> <tspan id="t_title_3" x="1186.32" textLength="77.86" lengthAdjust="spacingAndGlyphs">7)</tspan> <tspan id="t_title_4" x="1287.04" textLength="80.46" lengthAdjust="spacingAndGlyphs">as</tspan> <tspan id="t_title_5" x="1390.45" textLength="45.03" lengthAdjust="spacingAndGlyphs">a</tspan> <tspan id="t_title_6" x="1461.27" textLength="235.35" lengthAdjust="spacingAndGlyphs">Target</tspan> <tspan id="t_title_7" x="1719.42" textLength="98.81" lengthAdjust="spacingAndGlyphs">for</tspan> <tspan id="t_title_8" x="1841.86" textLength="486.82" lengthAdjust="spacingAndGlyphs">Inflammatory</tspan> <tspan id="t_title_9" x="2354.34" textLength="274.31" lengthAdjust="spacingAndGlyphs">Disease</tspan></text>
<text id="t_sub" x="186.57" y="303.30" font-size="43.75" font-weight="bold" class="b" fill="#07075F" textLength="1138.27" lengthAdjust="spacingAndGlyphs">NEK7 is an essential regulator of the inflammasome</text>
<text id="c_h1" x="1678.72" y="415.80" font-size="50" font-weight="bold" class="b" fill="#07075F" textLength="606.55" lengthAdjust="spacingAndGlyphs">Therapeutic hypothesis:</text>
<text id="c_p1a" x="1678.72" y="522.20" font-size="50" font-weight="normal" stroke="#07075F" stroke-width="0.6" fill="#07075F" textLength="1051.56" lengthAdjust="spacingAndGlyphs">Activation of the NLRP3 inflammasome critically</text>
<text id="c_p1b" x="1677.74" y="578.70" font-size="50" font-weight="normal" stroke="#07075F" stroke-width="0.6" fill="#07075F" textLength="390.80" lengthAdjust="spacingAndGlyphs">depends on NEK7</text>
<text id="c_b1a" x="1734.32" y="666.00" font-size="50" font-weight="normal" stroke="#07075F" stroke-width="0.6" fill="#07075F" textLength="954.37" lengthAdjust="spacingAndGlyphs">NEK7 licenses NLRP3 assembly in a kinase-</text>
<text id="c_b1b" x="1734.39" y="722.10" font-size="50" font-weight="normal" stroke="#07075F" stroke-width="0.6" fill="#07075F" textLength="456.77" lengthAdjust="spacingAndGlyphs">independent manner</text>
<text id="c_b2a" x="1734.28" y="809.60" font-size="50" font-weight="normal" stroke="#07075F" stroke-width="0.6" fill="#07075F" textLength="916.81" lengthAdjust="spacingAndGlyphs">NEK7-deficient macrophages are severely</text>
<text id="c_b2b" x="1734.31" y="866.00" font-size="50" font-weight="normal" stroke="#07075F" stroke-width="0.6" fill="#07075F" textLength="820.55" lengthAdjust="spacingAndGlyphs">impaired in IL-1β and IL-18 secretion</text>
<text id="c_p2a" x="1677.72" y="953.00" font-size="50" font-weight="normal" stroke="#07075F" stroke-width="0.6" fill="#07075F" textLength="1112.75" lengthAdjust="spacingAndGlyphs">Consequently, NEK7 degradation has the potential</text>
<text id="c_p2b" x="1678.52" y="1009.50" font-size="50" font-weight="normal" stroke="#07075F" stroke-width="0.6" fill="#07075F" textLength="1086.76" lengthAdjust="spacingAndGlyphs">to become an important treatment modality for a</text>
<text id="c_p2c" x="1678.73" y="1066.00" font-size="50" font-weight="normal" stroke="#07075F" stroke-width="0.6" fill="#07075F" textLength="714.96" lengthAdjust="spacingAndGlyphs">variety of inflammatory diseases</text>
<text id="c_h2" x="1678.12" y="1181.60" font-size="50" font-weight="bold" class="b" fill="#07075F" textLength="521.22" lengthAdjust="spacingAndGlyphs">Clinical Opportunity:</text>
<text id="c_p3a" x="1678.73" y="1288.00" font-size="50" font-weight="normal" stroke="#07075F" stroke-width="0.6" fill="#07075F" textLength="1144.56" lengthAdjust="spacingAndGlyphs">Diseases with over-activated NLRP3 inflammasome:</text>
<text id="c_p3b" x="1678.74" y="1344.30" font-size="50" font-weight="normal" stroke="#07075F" stroke-width="0.6" fill="#07075F" textLength="1075.55" lengthAdjust="spacingAndGlyphs">metabolic pathologies (e.g. gout), cardiovascular</text>
<text id="c_p3c" x="1677.93" y="1400.70" font-size="50" font-weight="normal" stroke="#07075F" stroke-width="0.6" fill="#07075F" textLength="1050.16" lengthAdjust="spacingAndGlyphs">diseases, inflammatory diseases and neurologic</text>
<text id="c_p3d" x="1677.91" y="1457.00" font-size="50" font-weight="normal" stroke="#07075F" stroke-width="0.6" fill="#07075F" textLength="202.31" lengthAdjust="spacingAndGlyphs">disorders</text>
<text id="l_act1" x="475.96" y="463.70" font-size="34.375" font-weight="bold" class="b" fill="#07075F" textLength="233.48" lengthAdjust="spacingAndGlyphs">Active NLRP3</text>
<text id="l_act2" x="464.38" y="507.40" font-size="34.375" font-weight="bold" class="b" fill="#07075F" textLength="256.86" lengthAdjust="spacingAndGlyphs">inflammasome</text>
<text id="l_casp" x="904.56" y="484.50" font-size="34.375" font-weight="normal" stroke="#C25C8A" stroke-width="0.45" fill="#C25C8A" textLength="312.69" lengthAdjust="spacingAndGlyphs">Caspase-1 activation</text>
<text id="l_nek7" x="314.32" y="592.20" font-size="34.375" font-weight="normal" stroke="#2088C8" stroke-width="0.45" fill="#2088C8" textLength="82.32" lengthAdjust="spacingAndGlyphs">NEK7</text>
<text id="l_nlrp3" x="173.39" y="756.10" font-size="34.375" font-weight="normal" stroke="#808082" stroke-width="0.45" fill="#808082" textLength="98.73" lengthAdjust="spacingAndGlyphs">NLRP3</text>
<text id="l_procasp" x="174.77" y="886.20" font-size="34.375" font-weight="normal" stroke="#C25C8A" stroke-width="0.45" fill="#C25C8A" textLength="217.46" lengthAdjust="spacingAndGlyphs">pro-Caspase-1</text>
<text id="l_asc" x="174.97" y="1019.20" font-size="34.375" font-weight="normal" stroke="#5A4A7A" stroke-width="0.45" fill="#5A4A7A" textLength="61.07" lengthAdjust="spacingAndGlyphs">ASC</text>
<text id="l_proil1" x="585.57" y="939.70" font-size="34.375" font-weight="normal" stroke="#07075F" stroke-width="0.45" fill="#07075F" textLength="142.44" lengthAdjust="spacingAndGlyphs">pro-IL-1<tspan font-family="'Liberation Serif',serif">β</tspan></text>
<text id="l_proil18" x="585.59" y="1000.00" font-size="34.375" font-weight="normal" stroke="#07075F" stroke-width="0.45" fill="#07075F" textLength="143.63" lengthAdjust="spacingAndGlyphs">pro-IL-18</text>
<text id="l_il1" x="749.41" y="1121.00" font-size="34.375" font-weight="normal" stroke="#07075F" stroke-width="0.45" fill="#07075F" textLength="80.86" lengthAdjust="spacingAndGlyphs">IL-1<tspan font-family="'Liberation Serif',serif">β</tspan></text>
<text id="l_il18" x="836.74" y="1173.70" font-size="34.375" font-weight="normal" stroke="#07075F" stroke-width="0.45" fill="#07075F" textLength="81.03" lengthAdjust="spacingAndGlyphs">IL-18</text>
<text id="l_pore1" x="1078.22" y="1102.50" font-size="34.375" font-weight="normal" stroke="#07075F" stroke-width="0.45" fill="#07075F" textLength="69.10" lengthAdjust="spacingAndGlyphs">Pore</text>
<text id="l_pore2" x="1042.52" y="1144.00" font-size="34.375" font-weight="normal" stroke="#07075F" stroke-width="0.45" fill="#07075F" textLength="139.69" lengthAdjust="spacingAndGlyphs">assembly</text>
<text id="l_gas" x="1150.77" y="727.90" font-size="34.375" font-weight="normal" stroke="#07075F" stroke-width="0.45" fill="#07075F" textLength="198.16" lengthAdjust="spacingAndGlyphs">Gasdermin-D</text>
<text id="l_nt1" x="1163.06" y="882.10" font-size="34.375" font-weight="normal" stroke="#07075F" stroke-width="0.45" fill="#07075F" textLength="160.35" lengthAdjust="spacingAndGlyphs">N-terminal</text>
<text id="l_nt2" x="1182.22" y="924.00" font-size="34.375" font-weight="normal" stroke="#07075F" stroke-width="0.45" fill="#07075F" textLength="122.50" lengthAdjust="spacingAndGlyphs">cleaving</text>
<text id="l_nt3" x="1185.50" y="965.00" font-size="34.375" font-weight="normal" stroke="#07075F" stroke-width="0.45" fill="#07075F" textLength="116.27" lengthAdjust="spacingAndGlyphs">product</text>
<text id="l_cyt1" x="530.48" y="1459.70" font-size="34.375" font-weight="bold" class="b" fill="#07075F" textLength="152.13" lengthAdjust="spacingAndGlyphs">Cytokine</text>
<text id="l_cyt2" x="525.57" y="1503.80" font-size="34.375" font-weight="bold" class="b" fill="#07075F" textLength="159.48" lengthAdjust="spacingAndGlyphs">secretion</text>
<text id="l_pyr" x="931.83" y="1459.70" font-size="34.375" font-weight="bold" class="b" fill="#07075F" textLength="181.36" lengthAdjust="spacingAndGlyphs">Pyroptosis</text>
<text id="l_45" x="49.73" y="1536.40" font-size="31.25" font-weight="normal" stroke="#0B3CA0" stroke-width="0.45" fill="#0B3CA0" textLength="35.84" lengthAdjust="spacingAndGlyphs">45</text>
</svg>
</body></html>
